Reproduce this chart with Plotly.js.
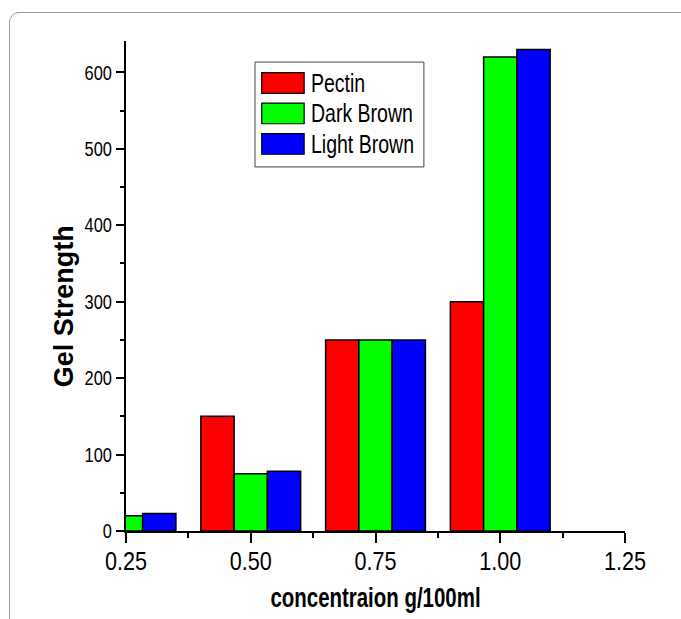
<!DOCTYPE html>
<html>
<head>
<meta charset="utf-8">
<script src="https://cdn.plot.ly/plotly-3.0.1.min.js"></script>
<style>
  html, body { margin: 0; padding: 0; background: #fff; overflow: hidden; }
  #chart { position: absolute; left: 0; top: 0; width: 681px; height: 619px; }
  #frame { position: absolute; left: 9px; top: 12px; width: 800px; height: 800px;
           border: 1.5px solid #9a9a9a; border-radius: 10px; pointer-events: none; }
</style>
</head>
<body>
<div id="chart"></div>
<div id="frame"></div>
<script>
// ---- data ----
const concentrations = [0.25, 0.50, 0.75, 1.00];
const seriesNames = ["Pectin", "Dark Brown", "Light Brown"];
const pectin = [null, 150, 250, 300];
const darkBrown = [20, 75, 250, 620];
const lightBrown = [23, 78, 250, 630];
const seriesColors = ["#ff0000", "#00ff00", "#0000ff"];
const xTickVals = [0.25, 0.50, 0.75, 1.00, 1.25];
const yTickVals = [0, 100, 200, 300, 400, 500, 600];
const xTitle = "concentraion g/100ml";
const yTitle = "Gel Strength";

const FONT = "'Liberation Sans', Arial, sans-serif";
const seriesValues = [pectin, darkBrown, lightBrown];

const traces = seriesValues.map((vals, i) => ({
  type: "bar",
  name: seriesNames[i],
  x: concentrations,
  y: vals,
  marker: { color: seriesColors[i], line: { color: "#000", width: 1.5 } },
  showlegend: false
}));

// custom legend (swatches + labels) in paper coords
const shapes = [];
const annotations = [];
const L = { x0: 0.2585, x1: 0.597, y0: 0.743, y1: 0.957 };
shapes.push({ type: "rect", xref: "paper", yref: "paper", x0: L.x0, x1: L.x1, y0: L.y0, y1: L.y1,
  line: { color: "#444", width: 1 }, fillcolor: "#fff", layer: "above" });
const rowTop = 0.9353, rowStep = 0.0622, swH = 0.0420;
seriesNames.forEach((nm, i) => {
  const top = rowTop - i * rowStep;
  shapes.push({ type: "rect", xref: "paper", yref: "paper", x0: 0.272, x1: 0.357,
    y0: top - swH, y1: top, fillcolor: seriesColors[i], line: { color: "#000", width: 1.2 }, layer: "above" });
  annotations.push({ xref: "paper", yref: "paper", x: 0.366, y: top - swH / 2, xanchor: "left", yanchor: "middle",
    text: nm, showarrow: false, font: { family: FONT, size: 25, color: "#000" }, name: "leg" });
});
// y-axis title (bold, rotated)
annotations.push({ xref: "paper", yref: "paper", x: -0.124, y: 0.459, xanchor: "center", yanchor: "middle",
  textangle: -90, text: "<b>" + yTitle + "</b>", showarrow: false, font: { family: FONT, size: 27, color: "#000" }, name: "ytitle" });

const layout = {
  width: 681, height: 619,
  margin: { l: 126, r: 56, t: 41, b: 88 },
  paper_bgcolor: "rgba(0,0,0,0)",
  plot_bgcolor: "rgba(0,0,0,0)",
  barmode: "group",
  bargap: 0.2,
  bargroupgap: 0,
  showlegend: false,
  font: { family: FONT, color: "#000" },
  xaxis: {
    range: [0.25, 1.25],
    tickvals: xTickVals,
    tickformat: ".2f",
    ticks: "outside", ticklen: 10, tickwidth: 2, tickcolor: "#000",
    ticklabelstandoff: -4,
    minor: { dtick: 0.125, tick0: 0.25, ticks: "outside", ticklen: 5, tickwidth: 2, tickcolor: "#000" },
    showline: true, linecolor: "#000", linewidth: 2,
    showgrid: false, zeroline: false,
    tickfont: { family: FONT, size: 26, color: "#000" },
    title: { text: "<b>" + xTitle + "</b>", font: { family: FONT, size: 28, color: "#000" }, standoff: 12 },
    automargin: false
  },
  yaxis: {
    range: [0, 641],
    tickvals: yTickVals,
    ticks: "outside", ticklen: 8, tickwidth: 2, tickcolor: "#000",
    minor: { dtick: 50, tick0: 0, ticks: "outside", ticklen: 4, tickwidth: 2, tickcolor: "#000" },
    showline: true, linecolor: "#000", linewidth: 2,
    showgrid: false, zeroline: false,
    tickfont: { family: FONT, size: 20.5, color: "#000" },
    automargin: false
  },
  shapes: shapes,
  annotations: annotations
};

function squeeze(el, s, keepLeft) {
  const len = el.getComputedTextLength();
  if (!len) return;
  el.setAttribute("textLength", (len * s).toFixed(2));
  el.setAttribute("lengthAdjust", "spacingAndGlyphs");
  if (keepLeft) {
    const x = parseFloat(el.getAttribute("x") || "0");
    el.setAttribute("x", (x - len * (1 - s) / 2).toFixed(2));
  }
}

Plotly.newPlot("chart", traces, layout, { displayModeBar: false, staticPlot: true }).then(gd => {
  gd.querySelectorAll(".xtick text").forEach(t => squeeze(t, 0.83));
  gd.querySelectorAll(".ytick text").forEach(t => squeeze(t, 0.80));
  gd.querySelectorAll(".g-xtitle text").forEach(t => squeeze(t, 0.73));
  const ann = gd.querySelectorAll(".annotation-text");
  ann.forEach((t, i) => { if (i < seriesNames.length) squeeze(t, 0.78, true); });
});
</script>
</body>
</html>
